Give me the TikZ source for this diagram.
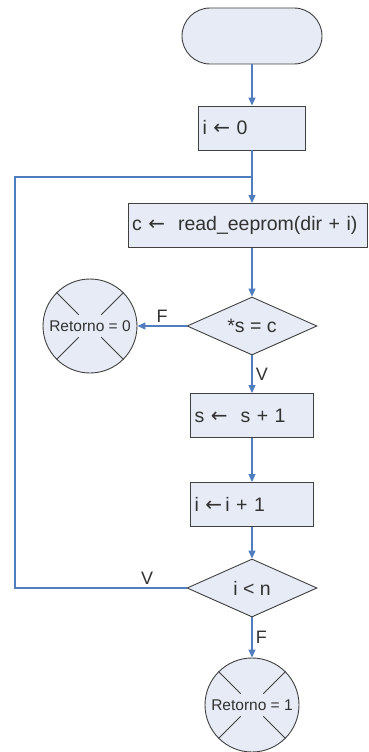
\documentclass[tikz,border=0pt]{standalone}
\usepackage{fontspec}
\setmainfont{Liberation Sans}
\newfontfamily\arrowfont{DejaVu Sans}
\newcommand{\assignarr}{{\arrowfont\fontsize{20}{22}\selectfont ←}}
\usetikzlibrary{shapes.geometric,arrows.meta}
\definecolor{boxfill}{RGB}{231,235,246}
\definecolor{flowline}{RGB}{79,125,190}
\definecolor{edgegray}{RGB}{64,64,64}
\definecolor{txtgray}{RGB}{50,50,50}
\tikzset{
  base/.style={draw=edgegray, fill=boxfill, line width=0.9pt, text=txtgray, font=\fontsize{19.5}{22}\selectfont},
  term/.style={base, rectangle, rounded corners=28pt, minimum width=140pt, minimum height=56pt},
  proc/.style={base, rectangle, minimum height=44pt, inner xsep=4pt, inner ysep=0pt, align=left, text width=#1},
  test/.style={base, diamond, aspect=2.24, inner sep=0pt, minimum width=130pt, minimum height=58pt},
  ret/.style={base, circle, minimum size=94pt, inner sep=0pt, font=\fontsize{15.5}{18}\selectfont},
  wire/.style={draw=flowline, line width=1.2pt},
  flow/.style={wire, -{Triangle[width=7pt,length=8pt]}},
  lbl/.style={text=txtgray, font=\fontsize{18}{21}\selectfont}
}
\begin{document}
\begin{tikzpicture}[x=1pt,y=-1pt]
        \useasboundingbox (0,0) rectangle (369,752);
        \node[term] (start) at (252,36) {};
        \node[proc=99pt] (init) at (252,128) {i \assignarr\ 0};
        \coordinate (join) at (252,177);
        \coordinate (loopL) at (15,177);
        \node[proc=231pt] (read) at (247.5,225.5) {c \assignarr\ \ read\_eeprom(dir + i)};
        \node[test] (same) at (252,326) {*s = c};
        \node[ret] (ret0) at (90,326) {Retorno = 0};
        \node[proc=115pt] (incs) at (252,415.5) {s \assignarr\ \ s + 1};
        \node[proc=115pt] (inci) at (252,504.5) {i \assignarr\,i + 1};
        \node[test] (cmp) at (252,588) {i < n};
        \node[ret] (ret1) at (252,705) {Retorno = 1};
        % crosses inside the end circles
        \foreach \r in {ret0,ret1}
            \foreach \a in {45,135,225,315}
                \draw[edgegray, line width=0.9pt] ([shift={(\a:16pt)}]\r.center) -- (\r.\a);
        % connectors
        \draw[flow] (start) -- (init);
        \draw[flow] (init.south) -- (join |- read.north);
        \draw[flow] (same |- read.south) -- (same);
        \draw[flow] (same) -- node[above,lbl] {F} (ret0);
        \draw[flow] (same) -- node[right,lbl] {V} (incs);
        \draw[flow] (incs) -- (inci);
        \draw[flow] (inci) -- (cmp);
        \draw[flow] (cmp) -- node[right,lbl] {F} (ret1);
        \draw[wire] (cmp.west) -- node[above,pos=0.23,lbl] {V} (loopL |- cmp) |- (join);
    \end{tikzpicture}
\end{document}
